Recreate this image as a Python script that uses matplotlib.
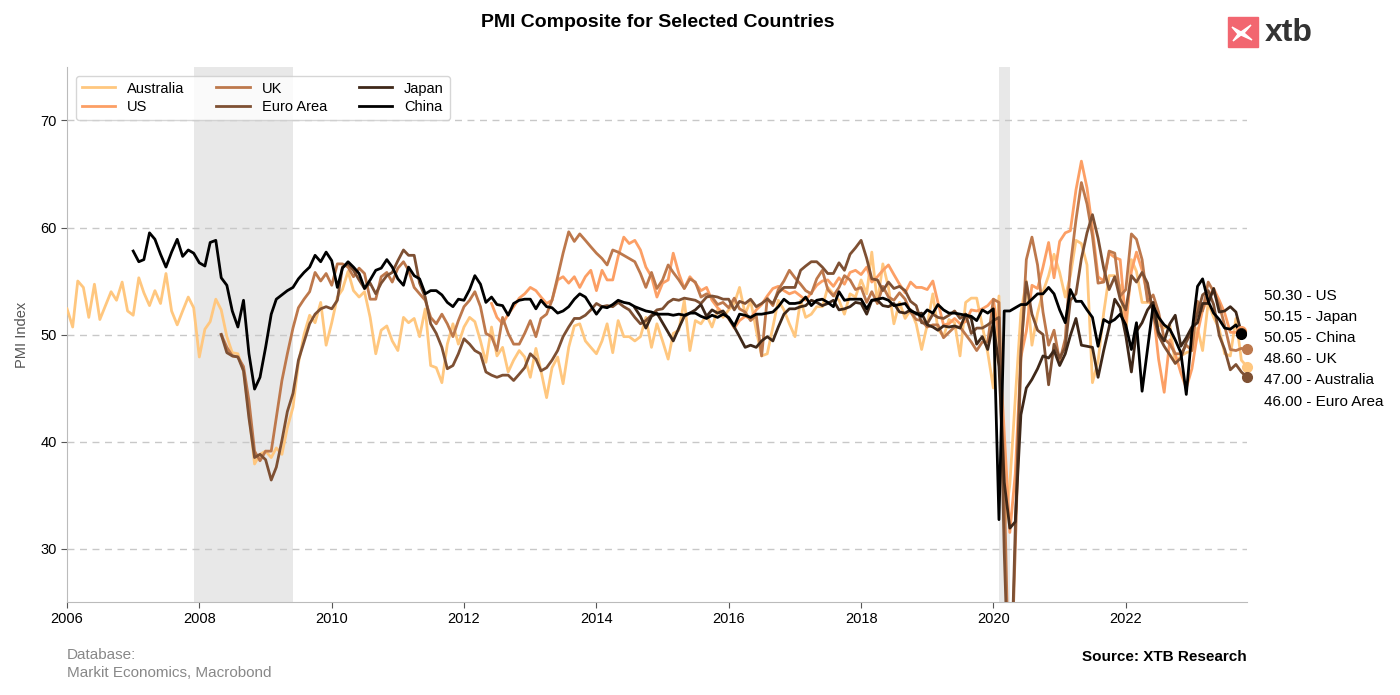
import numpy as np
import pandas as pd
import matplotlib
matplotlib.use("Agg")
import matplotlib.pyplot as plt
import matplotlib.dates as mdates
from matplotlib.patches import Rectangle, Polygon

plt.rcParams['font.family'] = ['Liberation Sans', 'DejaVu Sans']

# monthly composite PMI readings
australia_start = "2006-01"
australia = [
    52.4, 50.7, 55.0, 54.4, 51.6, 54.7, 51.4, 52.7, 54.0, 53.2, 54.9, 52.2,
    51.8, 55.3, 53.9, 52.7, 54.1, 52.9, 55.7, 52.2, 50.9, 52.2, 53.5, 52.5,
    47.9, 50.5, 51.2, 53.3, 52.3, 49.8, 48.3, 48.2, 46.6, 42.6, 37.9, 38.8,
    39.1, 38.5, 39.4, 38.8, 41.3, 43.2, 47.3, 50.0, 51.8, 51.1, 53.0, 49.0,
    51.1, 53.5, 54.2, 55.9, 54.1, 53.5, 54.0, 51.6, 48.2, 50.4, 50.8, 49.4,
    48.5, 51.6, 51.1, 51.5, 49.8, 52.4, 47.1, 46.9, 45.5, 49.1, 51.0, 49.1,
    50.7, 51.6, 51.2, 49.4, 47.4, 50.7, 48.0, 48.8, 46.5, 47.6, 48.5, 47.9,
    46.0, 48.7, 46.6, 44.1, 46.9, 47.9, 45.4, 48.8, 50.8, 51.0, 49.4, 48.8,
    48.2, 49.4, 51.0, 48.3, 51.3, 49.8, 49.8, 49.4, 49.8, 51.6, 48.8, 51.0,
    49.4, 47.7, 50.1, 50.4, 53.2, 48.5, 51.3, 51.0, 51.8, 50.7, 52.3, 51.6,
    52.3, 52.9, 54.4, 51.9, 53.2, 50.4, 48.0, 48.2, 50.7, 53.2, 52.3, 51.0,
    49.8, 53.2, 51.6, 51.9, 52.6, 52.6, 54.4, 53.8, 53.2, 51.9, 53.8, 53.5,
    55.1, 53.8, 57.7, 52.9, 56.6, 54.4, 51.0, 53.0, 51.5, 52.3, 51.0, 48.6,
    50.9, 53.8, 50.5, 49.8, 51.4, 51.1, 48.0, 53.0, 53.4, 53.4, 50.8, 48.3,
    45.0, 53.6, 31.8, 36.0, 44.0, 52.0, 55.0, 49.0, 52.0, 54.0, 55.5, 57.5,
    55.8, 53.5, 55.5, 58.8, 58.5, 56.5, 45.5, 47.5, 52.0, 55.5, 55.5, 54.5,
    50.0, 57.0, 55.9, 53.0, 53.0, 53.0, 50.9, 50.6, 50.9, 47.3, 48.0, 48.3,
    48.5, 50.6, 48.5, 53.0, 51.6, 50.5, 48.2, 48.0, 51.5, 47.6, 47.0,
]

us_start = "2012-06"
us = [
    52.9, 51.6, 51.0, 51.9, 52.6, 53.4, 53.8,
    54.4, 54.1, 53.5, 52.9, 53.2, 55.1, 55.4, 54.8, 55.4, 54.4, 55.4, 56.0,
    54.1, 56.0, 55.1, 55.1, 57.3, 59.1, 58.5, 58.8, 57.9, 56.3, 55.4, 53.5,
    54.8, 55.1, 57.6, 55.7, 54.3, 55.4, 54.8, 54.1, 54.4, 53.2, 52.5, 52.0,
    51.5, 50.6, 51.3, 51.7, 51.5, 52.3, 52.8, 53.6, 54.3, 54.5, 54.1, 53.8,
    54.0, 53.6, 53.2, 53.9, 54.6, 55.0, 55.1, 54.5, 55.3, 54.7, 55.8, 56.0,
    55.6, 56.3, 54.9, 55.4, 56.0, 56.5, 55.6, 54.7, 53.9, 54.9, 54.4, 54.4,
    54.2, 55.0, 53.0, 50.9, 51.0, 51.5, 51.0, 51.2, 52.3, 52.2, 52.4, 52.7,
    53.3, 49.6, 40.9, 31.5, 37.0, 47.9, 50.3, 54.6, 54.3, 56.3, 58.6, 55.3,
    58.7, 59.5, 59.7, 63.5, 66.2, 63.7, 59.9, 55.4, 55.0, 57.6, 57.2, 57.0,
    51.1, 55.9, 57.7, 56.0, 53.6, 52.3, 47.7, 44.6, 49.5, 48.2, 46.4, 45.0,
    46.8, 50.1, 52.3, 53.4, 54.3, 53.2, 52.0, 50.2, 50.2, 50.3,
]

uk_start = "2008-05"
uk = [
    50.0, 48.8, 48.0, 47.9, 47.0, 43.8, 39.1, 38.2,
    39.1, 39.1, 42.2, 45.7, 48.2, 50.6, 52.5, 53.3, 54.0, 55.8, 55.0, 55.7,
    54.6, 56.6, 56.6, 56.3, 55.4, 56.2, 55.7, 53.3, 53.3, 55.4, 55.8, 54.9,
    56.2, 56.8, 56.0, 54.4, 53.8, 53.2, 51.6, 51.0, 51.9, 51.0, 49.8, 51.3,
    52.6, 53.2, 54.0, 52.6, 50.1, 49.8, 48.5, 51.6, 50.1, 49.1, 49.1, 50.1,
    51.3, 49.8, 51.5, 51.9, 53.2, 55.4, 57.6, 59.6, 58.7, 59.4, 58.8, 58.2,
    57.6, 57.1, 56.5, 57.9, 57.7, 57.4, 57.1, 56.8, 55.7, 54.4, 55.8, 54.3,
    55.1, 56.5, 55.8, 55.1, 54.3, 55.2, 54.9, 53.5, 53.8, 53.5, 52.8, 53.0,
    52.5, 53.4, 52.4, 52.1, 51.3, 51.8, 48.0, 53.4, 52.7, 54.2, 55.0, 56.0,
    55.3, 54.7, 54.1, 53.8, 55.2, 56.0, 54.2, 53.6, 54.4, 55.5, 55.1, 54.2,
    54.4, 53.0, 54.0, 52.9, 54.5, 53.5, 53.2, 53.9, 53.3, 52.1, 51.4, 51.3,
    50.7, 50.9, 50.9, 49.7, 50.2, 50.7, 50.7, 50.0, 49.3, 48.5, 49.3, 49.3,
    53.3, 53.0, 36.0, 13.8, 30.0, 47.7, 57.0, 59.1, 56.5, 52.1, 49.0, 50.4,
    47.5, 49.6, 56.4, 60.7, 64.2, 62.2, 59.2, 54.8, 54.9, 57.8, 57.6, 53.6,
    54.2, 59.4, 58.9, 57.0, 53.1, 53.7, 52.1, 49.6, 49.1, 48.2, 48.2, 49.0,
    48.5, 53.1, 52.2, 54.9, 54.0, 52.8, 50.8, 48.6, 48.5, 48.7, 48.6,
]

euro_start = "2008-05"
euro = [
    50.0, 48.3, 48.0, 47.9, 46.6, 42.2, 38.5, 38.8,
    38.3, 36.4, 37.6, 40.1, 42.8, 44.5, 47.6, 49.3, 51.0, 51.9, 52.4, 52.6,
    52.4, 53.2, 56.3, 56.6, 56.0, 55.1, 54.3, 54.8, 53.8, 54.8, 55.5, 55.8,
    56.9, 57.9, 57.4, 57.4, 54.8, 53.5, 51.0, 50.1, 48.8, 46.8, 47.1, 48.2,
    49.6, 49.1, 48.5, 48.2, 46.5, 46.2, 46.0, 46.2, 46.2, 45.7, 46.3, 46.9,
    48.2, 47.7, 46.6, 46.9, 47.6, 48.5, 49.8, 50.7, 51.5, 51.5, 51.8, 52.3,
    52.9, 52.6, 52.7, 52.6, 53.0, 52.6, 52.3, 51.6, 51.0, 51.3, 51.8, 52.3,
    52.4, 53.0, 53.3, 53.2, 53.4, 53.3, 53.2, 52.9, 53.5, 53.6, 53.5, 53.3,
    53.3, 52.3, 53.1, 52.9, 53.3, 52.6, 52.9, 53.3, 52.9, 53.9, 54.4, 54.4,
    54.4, 56.0, 56.4, 56.8, 56.8, 56.3, 55.7, 55.7, 56.7, 56.0, 57.5, 58.1,
    58.8, 57.1, 55.2, 55.1, 54.1, 54.9, 54.3, 54.5, 54.1, 53.1, 52.7, 51.1,
    51.0, 51.9, 51.6, 51.5, 51.8, 52.2, 51.5, 51.9, 50.1, 50.6, 50.6, 50.9,
    51.3, 51.6, 29.7, 13.6, 31.9, 48.5, 54.9, 51.9, 50.4, 50.0, 45.3, 49.1,
    47.8, 48.8, 53.2, 53.8, 57.1, 59.5, 61.2, 59.0, 56.2, 54.2, 55.4, 53.3,
    52.3, 55.5, 54.9, 55.8, 54.8, 52.0, 49.9, 48.9, 48.1, 47.3, 47.8, 49.3,
    50.3, 52.0, 53.7, 54.1, 52.8, 49.9, 48.6, 46.7, 47.2, 46.5, 46.0,
]

japan_start = "2014-08"
japan = [
    52.5, 51.7, 50.6, 51.7, 52.0,
    51.1, 50.2, 49.4, 50.6, 51.7, 52.0, 52.3, 52.8, 51.7, 52.3, 52.0, 52.2,
    51.5, 50.7, 49.8, 48.8, 49.0, 48.8, 49.4, 49.8, 49.4, 50.7, 51.9, 52.4,
    52.4, 52.6, 52.7, 53.2, 53.0, 52.7, 52.9, 53.2, 52.3, 52.4, 52.6, 53.0,
    52.9, 51.9, 53.2, 53.2, 52.7, 52.6, 52.9, 52.1, 52.0, 52.3, 51.9, 52.0,
    50.9, 50.7, 50.4, 50.8, 50.7, 50.8, 50.6, 51.9, 51.5, 49.1, 49.8, 48.6,
    51.1, 47.0, 36.2, 31.9, 32.5, 42.5, 45.0, 45.8, 46.8, 48.0, 47.8, 48.5,
    47.1, 48.2, 49.9, 51.5, 49.0, 48.9, 48.8, 46.0, 48.5, 50.7, 53.3, 52.5,
    49.9, 46.5, 50.3, 51.1, 52.3, 53.0, 50.2, 49.4, 51.0, 51.8, 48.9, 49.7,
    50.7, 51.1, 52.9, 52.9, 54.3, 52.1, 52.2, 52.6, 52.1, 50.15,
]

china_start = "2007-01"
china = [
    57.8, 56.8, 57.0, 59.5, 58.9, 57.5, 56.3, 57.7, 58.9, 57.3, 57.9, 57.6,
    56.7, 56.4, 58.6, 58.8, 55.3, 54.6, 52.2, 50.7, 53.2, 48.2, 44.9, 46.0,
    48.8, 51.9, 53.3, 53.7, 54.1, 54.4, 55.2, 55.8, 56.3, 57.4, 56.8, 57.7,
    56.9, 54.4, 56.2, 56.8, 56.3, 55.7, 54.3, 55.1, 56.0, 56.2, 57.0, 56.3,
    55.2, 54.6, 56.3, 55.5, 55.2, 53.8, 54.1, 54.1, 53.7, 53.0, 52.6, 53.3,
    53.2, 54.2, 55.5, 54.7, 53.0, 53.5, 52.8, 52.7, 51.8, 52.9, 53.2, 53.3,
    53.3, 52.4, 53.2, 52.6, 52.5, 52.0, 52.2, 52.6, 53.3, 53.8, 53.5, 52.7,
    51.9, 52.6, 52.5, 52.8, 53.2, 53.0, 52.9, 52.6, 52.4, 52.2, 52.1, 51.9,
    51.9, 51.9, 51.8, 51.9, 51.8, 52.0, 52.0, 51.7, 51.5, 51.8, 51.6, 51.9,
    51.6, 50.8, 51.9, 51.8, 51.6, 51.9, 51.9, 52.0, 52.1, 52.6, 53.3, 52.9,
    52.9, 53.0, 53.5, 52.7, 53.2, 53.3, 53.0, 52.6, 54.0, 53.2, 53.3, 53.3,
    53.3, 52.4, 53.2, 53.3, 53.4, 53.2, 52.7, 52.8, 52.9, 52.2, 52.0, 51.7,
    52.3, 52.0, 52.8, 52.3, 52.0, 52.0, 51.9, 51.8, 51.7, 51.3, 52.3, 52.0,
    52.4, 32.7, 52.2, 52.2, 52.5, 52.8, 52.8, 53.3, 53.8, 53.8, 54.4, 53.8,
    52.3, 51.1, 54.2, 53.1, 53.1, 52.3, 51.6, 48.9, 51.4, 51.1, 51.4, 51.9,
    50.9, 48.6, 51.1, 44.7, 48.6, 52.7, 51.6, 50.9, 50.5, 49.5, 48.3, 44.4,
    50.2, 54.5, 55.2, 53.1, 52.0, 51.4, 50.6, 50.5, 50.9, 50.05,
]

names = ["Australia", "US", "UK", "Euro Area", "Japan", "China"]
series = [australia, us, uk, euro, japan, china]
starts = [australia_start, us_start, uk_start, euro_start, japan_start, china_start]

recessions = [("2007-12-01", "2009-06-01"), ("2020-02-01", "2020-04-01")]

colors = plt.cm.copper(np.linspace(1, 0, len(names)))

fig = plt.figure(figsize=(14, 6.95), dpi=100)
ax = fig.add_axes([0.0479, 0.1338, 0.8428, 0.7698])

for a, b in recessions:
    ax.axvspan(pd.Timestamp(a), pd.Timestamp(b), color="#e8e8e8", zorder=0, lw=0)

last = []
for name, vals, start, col in zip(names, series, starts, colors):
    dates = pd.date_range(start, periods=len(vals), freq="MS")
    ax.plot(dates, vals, color=col, lw=2, label=name, zorder=3)
    ax.plot(dates[-1], vals[-1], "o", color=col, ms=7, zorder=5, clip_on=False)
    last.append((vals[-1], name))

ax.set_xlim(pd.Timestamp("2006-01-01"), pd.Timestamp("2023-11-01"))
ax.set_ylim(25, 75)
ax.set_yticks([30, 40, 50, 60, 70])
ax.xaxis.set_major_locator(mdates.YearLocator(2))
ax.xaxis.set_major_formatter(mdates.DateFormatter("%Y"))
ax.tick_params(labelsize=10.5, length=4, color="#555555")
ax.grid(axis="y", ls=(0, (5, 4)), color="#c8c8c8", lw=1)
ax.set_axisbelow(True)
for s in ["top", "right"]:
    ax.spines[s].set_visible(False)
for s in ["left", "bottom"]:
    ax.spines[s].set_color("#bbbbbb")
ax.set_ylabel("PMI Index", color="#555555", fontsize=10.5, labelpad=8)

ax.legend(loc="upper left", ncol=3, fontsize=10.5, frameon=True,
          edgecolor="#cccccc", handlelength=2.3, columnspacing=2.2,
          borderaxespad=0.6, labelspacing=0.3)

# end-of-line value labels, sorted high to low
last.sort(key=lambda t: -t[0])
mid = np.mean([v for v, _ in last])
for i, (v, name) in enumerate(last):
    y = mid + (2.5 - i) * 1.98
    ax.annotate(f"{v:.2f} - {name}", xy=(1.0145, y),
                xycoords=("axes fraction", "data"), fontsize=11,
                va="center", ha="left", annotation_clip=False)

fig.text(0.4695, 0.968, "PMI Composite for Selected Countries",
         ha="center", va="center", fontsize=14, fontweight="bold")
fig.text(0.0479, 0.057, "Database:", color="#888888", fontsize=11, va="center")
fig.text(0.0479, 0.031, "Markit Economics, Macrobond", color="#888888",
         fontsize=11, va="center")
fig.text(0.8907, 0.054, "Source: XTB Research", ha="right", va="center",
         fontsize=11, fontweight="bold")

# xtb logo: red square with white stylised cross, then the word mark
def px(x, y):
    return (x / 1400, 1 - y / 695)

fig.patches.append(Rectangle(px(1228, 47), 30 / 1400, 30 / 695,
                             transform=fig.transFigure, color="#f26670"))
fig.patches.append(Polygon([px(*p) for p in
                            [(1232, 27), (1241, 32), (1251, 25), (1244, 33),
                             (1252, 40), (1241, 35), (1233, 41), (1238, 34)]],
                           closed=True, color="white", transform=fig.transFigure))
fig.text(1265 / 1400, 1 - 33 / 695, "xtb", fontsize=23, fontweight="bold",
         color="#333333", va="center", ha="left")

fig.savefig("out.png", dpi=100)
